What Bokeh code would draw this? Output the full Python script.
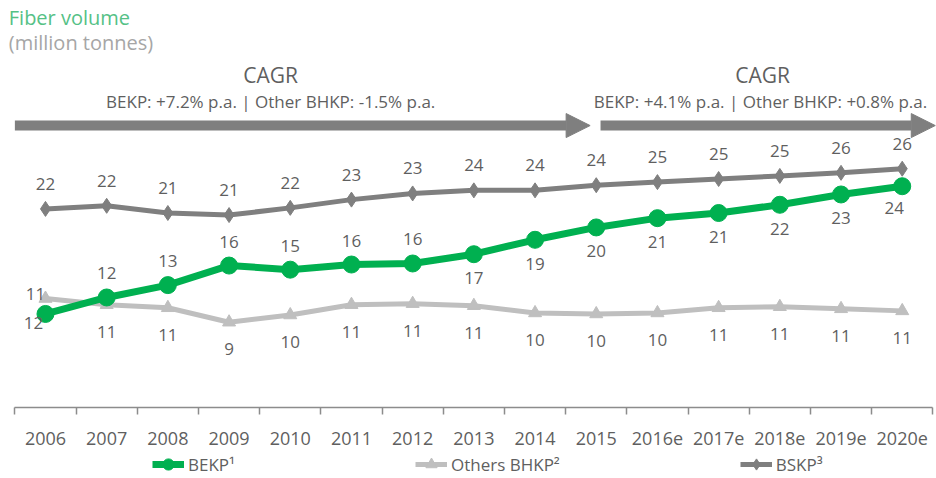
from bokeh.plotting import figure
from bokeh.layouts import column
from bokeh.models import (ColumnDataSource, Range1d, FixedTicker, Label, Arrow,
                          NormalHead, Legend, LegendItem)
from bokeh.core.properties import value
from bokeh.embed import file_html
from bokeh.resources import INLINE

# ---------------- data ----------------
years = ["2006", "2007", "2008", "2009", "2010", "2011", "2012", "2013", "2014",
         "2015", "2016e", "2017e", "2018e", "2019e", "2020e"]
bekp = [11.9, 13.5, 14.7, 16.6, 16.2, 16.7, 16.8, 17.7, 19.1, 20.3, 21.2, 21.7, 22.5, 23.5, 24.3]
others_bhkp = [13.4, 12.8, 12.5, 11.1, 11.8, 12.8, 12.9, 12.7, 12.0, 11.9, 12.0, 12.5, 12.6, 12.4, 12.2]
bskp = [22.1, 22.4, 21.7, 21.5, 22.2, 23.0, 23.6, 23.9, 23.9, 24.4, 24.7, 25.0, 25.3, 25.6, 26.0]
bekp_labels = ["12", "12", "13", "16", "15", "16", "16", "17", "19", "20", "21", "21", "22", "23", "24"]
others_labels = ["11", "11", "11", "9", "10", "11", "11", "11", "10", "10", "10", "11", "11", "11", "11"]
bskp_labels = ["22", "22", "21", "21", "22", "23", "23", "24", "24", "24", "25", "25", "25", "26", "26"]
series_names = ["BEKP\u00b9", "Others BHKP\u00b2", "BSKP\u00b3"]
cagr_1 = "BEKP: +7.2% p.a. | Other BHKP: -1.5% p.a."
cagr_2 = "BEKP: +4.1% p.a.  | Other BHKP: +0.8% p.a."

# label placement (layout only)
bekp_place = ["left-below"] + ["above"] * 6 + ["below"] * 7 + ["below-left"]
others_place = ["left-above"] + ["below"] * 14
bskp_place = ["above"] * 15

FONT = "Open Sans"
TXT = "#5f5f5f"
GREEN = "#00b050"
LIGHT = "#bfbfbf"
DARK = "#7f7f7f"

x = list(range(len(years)))

p = figure(width=936, height=450, output_backend="svg", toolbar_location=None,
           x_range=Range1d(-0.735, 14.56), y_range=Range1d(2.82, 42.33),
           y_axis_location=None, min_border_left=0, min_border_right=0,
           min_border_top=0, min_border_bottom=43)
p.outline_line_color = None
p.grid.visible = False

ax = p.xaxis[0]
ax.ticker = FixedTicker(ticks=x, minor_ticks=[i - 0.5 for i in range(len(years) + 1)])
ax.major_label_overrides = {i: y for i, y in enumerate(years)}
ax.bounds = (-0.5, len(years) - 0.5)
ax.major_tick_line_color = None
ax.major_tick_out = 0
ax.major_tick_in = 0
ax.minor_tick_out = 7
ax.minor_tick_in = 0
ax.minor_tick_line_color = "#8c8c8c"
ax.minor_tick_line_width = 1.5
ax.axis_line_color = "#8c8c8c"
ax.axis_line_width = 1.5
ax.major_label_text_font = FONT
ax.major_label_text_font_size = "18px"
ax.major_label_text_color = TXT
ax.major_label_standoff = 17

src = ColumnDataSource(dict(x=x, bekp=bekp, others=others_bhkp, bskp=bskp))

styles = {"bekp": (GREEN, 7, "circle", 17),
          "others": (LIGHT, 5, "triangle", 13),
          "bskp": (DARK, 5, "diamond", 15)}

for key in ["bskp", "others", "bekp"]:
    c, lw, mk, sz = styles[key]
    p.line("x", key, source=src, line_color=c, line_width=lw)
    p.scatter("x", key, source=src, marker=mk, size=sz, color=c)


def add_labels(vals, labels, place, offs):
    dx = [offs[k][0] for k in place]
    dy = [offs[k][1] for k in place]
    s = ColumnDataSource(dict(x=x, y=vals, t=labels, dx=dx, dy=dy))
    p.text("x", "y", text="t", x_offset="dx", y_offset="dy", source=s,
           text_align="center", text_baseline="middle", text_font=value(FONT),
           text_font_size="17px", text_color=TXT)


add_labels(bskp, bskp_labels, bskp_place, {"above": (0, -25)})
add_labels(bekp, bekp_labels, bekp_place,
           {"above": (0, -24), "below": (0, 24), "left-below": (-12, 9), "below-left": (-8, 22)})
add_labels(others_bhkp, others_labels, others_place,
           {"below": (0, 27), "left-above": (-10, -5)})

# title texts
p.add_layout(Label(x=-0.6, y=40.68, text="Fiber volume", text_font=FONT,
                   text_font_size="20px", text_color="#55c186", text_baseline="middle"))
p.add_layout(Label(x=-0.6, y=38.25, text="(million tonnes)", text_font=FONT,
                   text_font_size="20px", text_color="#a6a6a6", text_baseline="middle"))

# CAGR annotations
for cx, sub in [(3.68, cagr_1), (11.72, cagr_2)]:
    p.add_layout(Label(x=cx, y=35.05, text="CAGR", text_font=FONT, text_font_size="21px",
                       text_color=TXT, text_align="center", text_baseline="middle"))
    p.add_layout(Label(x=cx, y=32.52, text=sub, text_font=FONT, text_font_size="17px",
                       text_color=TXT, text_align="center", text_baseline="middle"))

for xs, xe in [(-0.5, 8.9), (9.07, 14.54)]:
    p.add_layout(Arrow(x_start=xs, y_start=30.19, x_end=xe, y_end=30.19,
                       line_color=DARK, line_width=10,
                       end=NormalHead(size=24, fill_color=DARK, line_color=DARK, line_width=1)))

# ---------------- legend strip ----------------
# same series drawn out of view; only their legend swatches are visible
lf = figure(width=936, height=28, output_backend="svg", toolbar_location=None,
            x_range=Range1d(-100, -99), y_range=Range1d(-100, -99),
            x_axis_location=None, y_axis_location=None, min_border=0)
lf.outline_line_color = None
lf.grid.visible = False
items = []
for name, key in zip(series_names, ["bekp", "others", "bskp"]):
    c, lw, mk, sz = styles[key]
    rl = lf.line("x", key, source=src, line_color=c, line_width=lw)
    rm = lf.scatter("x", key, source=src, marker=mk, size=sz, color=c)
    items.append(LegendItem(label=name, renderers=[rl, rm]))

lg = Legend(items=items, location=(152, 0), orientation="horizontal")
lg.border_line_color = None
lg.background_fill_alpha = 0
lg.padding = 0
lg.margin = 0
lg.spacing = 180
lg.glyph_width = 32
lg.glyph_height = 28
lg.label_height = 20
lg.label_standoff = 4
lg.label_text_font = FONT
lg.label_text_font_size = "17px"
lg.label_text_color = TXT
lg.label_text_baseline = "middle"
lf.add_layout(lg)

layout = column(p, lf, spacing=0)
open("out.html", "w").write(file_html(layout, INLINE))
